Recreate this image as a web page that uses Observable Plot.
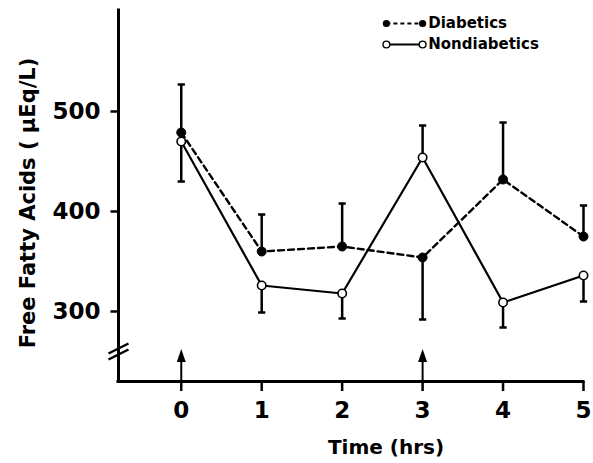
<!DOCTYPE html>
<html>
<head>
<meta charset="utf-8">
<script src="https://cdn.jsdelivr.net/npm/d3@7"></script>
<script src="https://cdn.jsdelivr.net/npm/@observablehq/plot@0.6"></script>
<style>
  html, body { margin: 0; padding: 0; background: #fff; }
</style>
</head>
<body>
<div id="chart"></div>
<script>
const times = [0, 1, 2, 3, 4, 5];
const diabetics = [479, 360, 365, 354, 432, 375];
const diabeticsSEM = [48, 37, 43, 62, 57, 31];
const diabeticsDir = [1, 1, 1, -1, 1, 1];
const nondiabetics = [470, 326, 318, 454, 309, 336];
const nondiabeticsSEM = [40, 27, 25, 32, 25, 26];
const nondiabeticsDir = [-1, -1, -1, 1, -1, -1];
const xTicks = [0, 1, 2, 3, 4, 5];
const yTicks = [300, 400, 500];
const arrowTimes = [0, 3];
const xDomain = [-0.78, 5];
const yDomain = [230, 601];
const axisBreaks = [263, 257];
const legendSeries = ["Diabetics", "Nondiabetics"];
const legendY = [588, 567];
const legendX = [2.55, 3.0, 3.07];

const font = "DejaVu Sans, sans-serif";

const rows = [];
times.forEach((t, i) => {
  rows.push({t, series: "Diabetics", v: diabetics[i], end: diabetics[i] + diabeticsDir[i] * diabeticsSEM[i]});
  rows.push({t, series: "Nondiabetics", v: nondiabetics[i], end: nondiabetics[i] + nondiabeticsDir[i] * nondiabeticsSEM[i]});
});
const dia = rows.filter(d => d.series === "Diabetics");
const non = rows.filter(d => d.series === "Nondiabetics");

const arrowHead = {
  draw(ctx) {
    ctx.moveTo(0, -7);
    ctx.lineTo(4.5, 6);
    ctx.lineTo(-4.5, 6);
    ctx.closePath();
  }
};

const legendRows = legendSeries.map((s, i) => ({s, y: legendY[i]}));

const chart = Plot.plot({
  width: 593,
  height: 463,
  marginLeft: 118,
  marginRight: 10,
  marginTop: 10,
  marginBottom: 82,
  style: {fontFamily: font, background: "#fff", color: "#000"},
  x: {domain: xDomain, axis: null},
  y: {domain: yDomain, axis: null},
  marks: [
    // axes lines
    Plot.ruleX([xDomain[0]], {stroke: "black", strokeWidth: 3, strokeLinecap: "square"}),
    Plot.ruleY([yDomain[0]], {stroke: "black", strokeWidth: 3, strokeLinecap: "square"}),
    // axis break marks
    Plot.link(axisBreaks, {x1: xDomain[0] - 0.124, x2: xDomain[0] + 0.124, y1: d => d - 5, y2: d => d + 5, stroke: "black", strokeWidth: 2.5}),
    // x ticks
    Plot.ruleX(xTicks, {x: d => d, y1: yDomain[0], y2: yDomain[0] - 10, stroke: "black", strokeWidth: 2.5}),
    Plot.text(xTicks, {x: d => d, y: yDomain[0], dy: 29, text: d => String(d), fontSize: 23, fontWeight: "bold", fill: "black"}),
    // y ticks
    Plot.link(yTicks, {x1: xDomain[0], x2: xDomain[0] - 0.1, y1: d => d, y2: d => d, stroke: "black", strokeWidth: 2.5}),
    Plot.text(yTicks, {x: xDomain[0], y: d => d, dx: -18, text: d => String(d), textAnchor: "end", fontSize: 23, fontWeight: "bold", fill: "black"}),
    // axis labels
    Plot.text(["Free Fatty Acids ( \u03bcEq/L)"], {frameAnchor: "left", textAnchor: "middle", dx: -90, dy: 7, rotate: -90, fontSize: 21, fontWeight: "bold", fill: "black"}),
    Plot.text(["Time (hrs)"], {frameAnchor: "bottom", textAnchor: "middle", dx: 35, dy: 72, fontSize: 20, fontWeight: "bold", fill: "black"}),
    // arrows
    Plot.ruleX(arrowTimes, {x: d => d, y1: yDomain[0], y2: 252, stroke: "black", strokeWidth: 2}),
    Plot.dot(arrowTimes, {x: d => d, y: 255.5, symbol: arrowHead, fill: "black", stroke: "none"}),
    // error bars
    Plot.link(rows, {x1: "t", x2: "t", y1: "v", y2: "end", stroke: "black", strokeWidth: 2.5}),
    Plot.link(rows, {x1: d => d.t - 0.045, x2: d => d.t + 0.045, y1: "end", y2: "end", stroke: "black", strokeWidth: 2.5}),
    // lines
    Plot.line(dia, {x: "t", y: "v", stroke: "black", strokeWidth: 2.4, strokeDasharray: "6,4"}),
    Plot.line(non, {x: "t", y: "v", stroke: "black", strokeWidth: 2.2}),
    // dots
    Plot.dot(dia, {x: "t", y: "v", r: 4.5, fill: "black", stroke: "black", strokeWidth: 1}),
    Plot.dot(non, {x: "t", y: "v", r: 4.2, fill: "white", stroke: "black", strokeWidth: 1.6}),
    // legend
    Plot.link([legendRows[0]], {x1: legendX[0], x2: legendX[1], y1: "y", y2: "y", stroke: "black", strokeWidth: 2, strokeDasharray: "4,3"}),
    Plot.link([legendRows[1]], {x1: legendX[0], x2: legendX[1], y1: "y", y2: "y", stroke: "black", strokeWidth: 1.8}),
    Plot.dot([legendRows[0], legendRows[0]], {x: (d, i) => legendX[i], y: "y", r: 3.6, fill: "black"}),
    Plot.dot([legendRows[1], legendRows[1]], {x: (d, i) => legendX[i], y: "y", r: 3.4, fill: "white", stroke: "black", strokeWidth: 1.4}),
    Plot.text(legendRows, {x: legendX[2], y: "y", text: "s", textAnchor: "start", fontSize: 15, fontWeight: "bold", fill: "black"})
  ]
});
document.getElementById("chart").appendChild(chart);
</script>
</body>
</html>
